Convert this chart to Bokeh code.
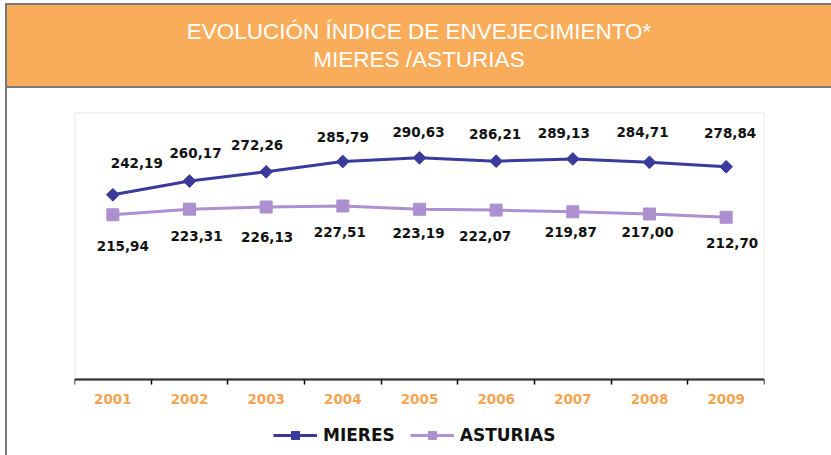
from bokeh.plotting import figure
from bokeh.models import (ColumnDataSource, FixedTicker, Legend, LegendItem, Div,
                          Range1d, BoxAnnotation)
from bokeh.layouts import column
from bokeh.core.properties import value
from bokeh.embed import file_html
from bokeh.resources import INLINE

# ---- data ----
years = ["2001", "2002", "2003", "2004", "2005", "2006", "2007", "2008", "2009"]
mieres = [242.19, 260.17, 272.26, 285.79, 290.63, 286.21, 289.13, 284.71, 278.84]
asturias = [215.94, 223.31, 226.13, 227.51, 223.19, 222.07, 219.87, 217.00, 212.70]

# label placement (screen px offsets from each point)
mieres_dx = [24, 6, -9, 0, -1, -1, -9, -7, 4]
mieres_dy = [-32, -28, -27, -24, -26, -27, -26, -30, -34]
ast_dx = [10, 7, 1, -3, -1, -11, -2, -2, 6]
ast_dy = [31, 27, 30, 26, 24, 26, 20, 18, 26]

BLUE = "#3a3a9c"
LILAC = "#ad90d0"
ORANGE = "#f9ad5a"
YEAR_ORANGE = "#f5a452"

xs = list(range(1, len(years) + 1))

def fmt(v):
    return f"{v:.2f}".replace(".", ",")

src_m = ColumnDataSource(dict(x=xs, y=mieres, lab=[fmt(v) for v in mieres],
                              dx=mieres_dx, dy=mieres_dy))
src_a = ColumnDataSource(dict(x=xs, y=asturias, lab=[fmt(v) for v in asturias],
                              dx=ast_dx, dy=ast_dy))

header = Div(
    text=('<div style="box-sizing:border-box;width:824px;height:85px;'
          'background:%s;border-top:2px solid #7a7a7a;border-bottom:2px solid #7a7a7a;'
          'color:white;font-family:\'Liberation Sans\';font-size:22.5px;line-height:28px;'
          'text-align:center;padding-top:13px;">'
          'EVOLUCIÓN ÍNDICE DE ENVEJECIMIENTO*<br>MIERES /ASTURIAS</div>') % ORANGE,
    width=824, height=85, margin=0,
)

# frame spans from the plot top down to the bottom of the picture; value 0 sits
# where the category axis is drawn, the room below holds the years and the legend
p = figure(width=824, height=367, output_backend="svg", toolbar_location=None,
           x_range=Range1d(0.5, len(years) + 0.5), y_range=Range1d(-99.5, 350),
           min_border_left=67, min_border_right=67, min_border_top=24,
           min_border_bottom=0)
p.margin = 0
p.background_fill_color = "white"
p.border_fill_color = "white"
p.outline_line_color = None
p.grid.visible = False
p.yaxis.visible = False

# gray plot-area frame above the axis
p.add_layout(BoxAnnotation(bottom=0, fill_alpha=0, line_color="#a8a8a8",
                           line_width=1.5))

ax = p.xaxis[0]
ax.fixed_location = 0
ax.ticker = FixedTicker(ticks=xs, minor_ticks=[x - 0.5 for x in xs] + [len(xs) + 0.5])
ax.major_label_overrides = {x: y for x, y in zip(xs, years)}
ax.major_tick_line_color = None
ax.major_tick_out = 0
ax.major_tick_in = 0
ax.minor_tick_line_color = "black"
ax.minor_tick_line_width = 1.5
ax.minor_tick_out = 5
ax.minor_tick_in = 0
ax.axis_line_color = "black"
ax.axis_line_width = 2
ax.major_label_standoff = 9
ax.major_label_text_font = "DejaVu Sans"
ax.major_label_text_font_style = "bold"
ax.major_label_text_font_size = "13.5px"
ax.major_label_text_color = YEAR_ORANGE

lm = p.line("x", "y", source=src_m, line_color=BLUE, line_width=3)
sm = p.scatter("x", "y", source=src_m, marker="square", angle=0.785398, size=9,
               fill_color=BLUE, line_color=BLUE)
la = p.line("x", "y", source=src_a, line_color=LILAC, line_width=3)
sa = p.scatter("x", "y", source=src_a, marker="square", size=12,
               fill_color=LILAC, line_color=LILAC)

for src in (src_m, src_a):
    p.text("x", "y", text="lab", source=src, x_offset="dx", y_offset="dy",
           text_align="center", text_baseline="middle",
           text_font=value("DejaVu Sans"), text_font_style="bold",
           text_font_size="13.5px", text_color="#111111")

legend = Legend(items=[LegendItem(label="MIERES", renderers=[lm, sm]),
                       LegendItem(label="ASTURIAS", renderers=[la, sa])],
                orientation="horizontal", location=(199, 10),
                glyph_width=44, glyph_height=20, label_standoff=6, spacing=15,
                padding=0, margin=0, border_line_color=None,
                background_fill_alpha=0,
                label_text_font="DejaVu Sans", label_text_font_style="bold",
                label_text_font_size="17px", label_text_color="#111111")
p.add_layout(legend, "center")

layout = column(header, p, spacing=0,
                styles={"border-left": "2px solid #7a7a7a", "margin-left": "5px",
                        "margin-top": "3px"})

open("out.html", "w").write(file_html(layout, INLINE))
